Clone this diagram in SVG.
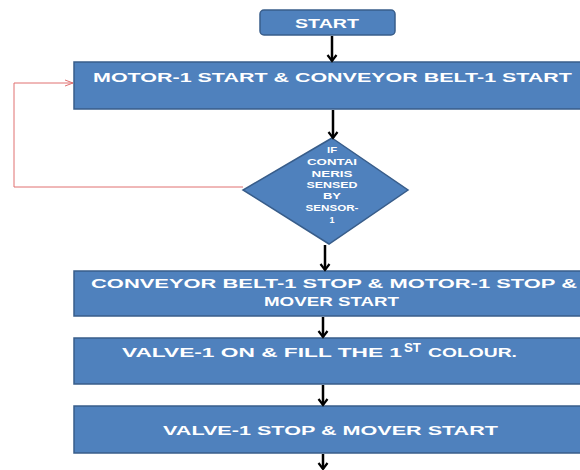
<svg xmlns="http://www.w3.org/2000/svg" width="580" height="470" viewBox="0 0 580 470">
<defs>
<marker id="ah" markerWidth="12" markerHeight="12" refX="10" refY="6" orient="auto" markerUnits="userSpaceOnUse" viewBox="0 0 12 12">
<polyline points="4,1.5 10,6 4,10.5" fill="none" stroke="#000" stroke-width="2.2"/>
</marker>
<marker id="rh" markerWidth="10" markerHeight="8" refX="9" refY="4" orient="auto" markerUnits="userSpaceOnUse" viewBox="0 0 10 8">
<polyline points="1,1 9,4 1,7" fill="none" stroke="#E07070" stroke-width="1"/>
</marker>
</defs>
<style>
.box{fill:#4F81BD;stroke:#385D8A;stroke-width:1.5}
.t{font-family:"Liberation Sans",Arial,sans-serif;font-weight:bold;fill:#FFFFFF;font-size:13px}
.d{font-family:"Liberation Sans",Arial,sans-serif;font-weight:bold;fill:#FFFFFF;font-size:9px;text-anchor:middle}
.c{fill:none;stroke:#000;stroke-width:2.5}
</style>
<rect width="580" height="470" fill="#FFFFFF"/>
<g id="start">
<rect class="box" x="260" y="10" width="135" height="25" rx="4"/>
<text class="t" x="327" y="28" text-anchor="middle" textLength="64" lengthAdjust="spacingAndGlyphs" fill="#F2F2F2">START</text>
</g>
<g id="motor">
<rect class="box" x="74" y="62" width="520" height="47"/>
<text class="t" x="93" y="82" textLength="479" lengthAdjust="spacingAndGlyphs">MOTOR-1 START &amp; CONVEYOR BELT-1 START</text>
</g>
<g id="decision">
<polygon class="box" points="332,138 408,190 329,244 243,190"/>
<text class="d" x="332" y="153" textLength="10" lengthAdjust="spacingAndGlyphs">IF</text>
<text class="d" x="332" y="165" textLength="50" lengthAdjust="spacingAndGlyphs">CONTAI</text>
<text class="d" x="332" y="177" textLength="41" lengthAdjust="spacingAndGlyphs">NERIS</text>
<text class="d" x="332" y="188" textLength="51" lengthAdjust="spacingAndGlyphs">SENSED</text>
<text class="d" x="332" y="199" textLength="18" lengthAdjust="spacingAndGlyphs">BY</text>
<text class="d" x="332" y="211" textLength="53" lengthAdjust="spacingAndGlyphs">SENSOR-</text>
<text class="d" x="332" y="223">1</text>
</g>
<g id="conveyor-stop">
<rect class="box" x="74" y="271" width="520" height="45"/>
<text class="t" x="91" y="288" textLength="486" lengthAdjust="spacingAndGlyphs">CONVEYOR BELT-1 STOP &amp; MOTOR-1 STOP &amp;</text>
<text class="t" x="264" y="306" textLength="135" lengthAdjust="spacingAndGlyphs">MOVER START</text>
</g>
<g id="valve-on">
<rect class="box" x="74" y="338" width="520" height="46"/>
<text class="t" x="122" y="357" textLength="280" lengthAdjust="spacingAndGlyphs">VALVE-1 ON &amp; FILL THE 1</text>
<text class="t" x="404" y="352" font-size="8" textLength="17" lengthAdjust="spacingAndGlyphs">ST</text>
<text class="t" x="428" y="357" textLength="89" lengthAdjust="spacingAndGlyphs">COLOUR.</text>
</g>
<g id="valve-stop">
<rect class="box" x="74" y="406" width="520" height="47"/>
<text class="t" x="163" y="435" textLength="335" lengthAdjust="spacingAndGlyphs">VALVE-1 STOP &amp; MOVER START</text>
</g>
<g id="connectors">
<line class="c" x1="332" y1="36" x2="332" y2="61" marker-end="url(#ah)"/>
<line class="c" x1="333" y1="110" x2="333" y2="138" marker-end="url(#ah)"/>
<line class="c" x1="325" y1="245" x2="325" y2="270" marker-end="url(#ah)"/>
<line class="c" x1="323" y1="317" x2="323" y2="337" marker-end="url(#ah)"/>
<line class="c" x1="323" y1="385" x2="323" y2="405" marker-end="url(#ah)"/>
<line class="c" x1="323" y1="454" x2="323" y2="469" marker-end="url(#ah)"/>
<polyline points="243,187 14,187 14,83 73,83" fill="none" stroke="#E07070" stroke-width="1" marker-end="url(#rh)"/>
</g>
</svg>
